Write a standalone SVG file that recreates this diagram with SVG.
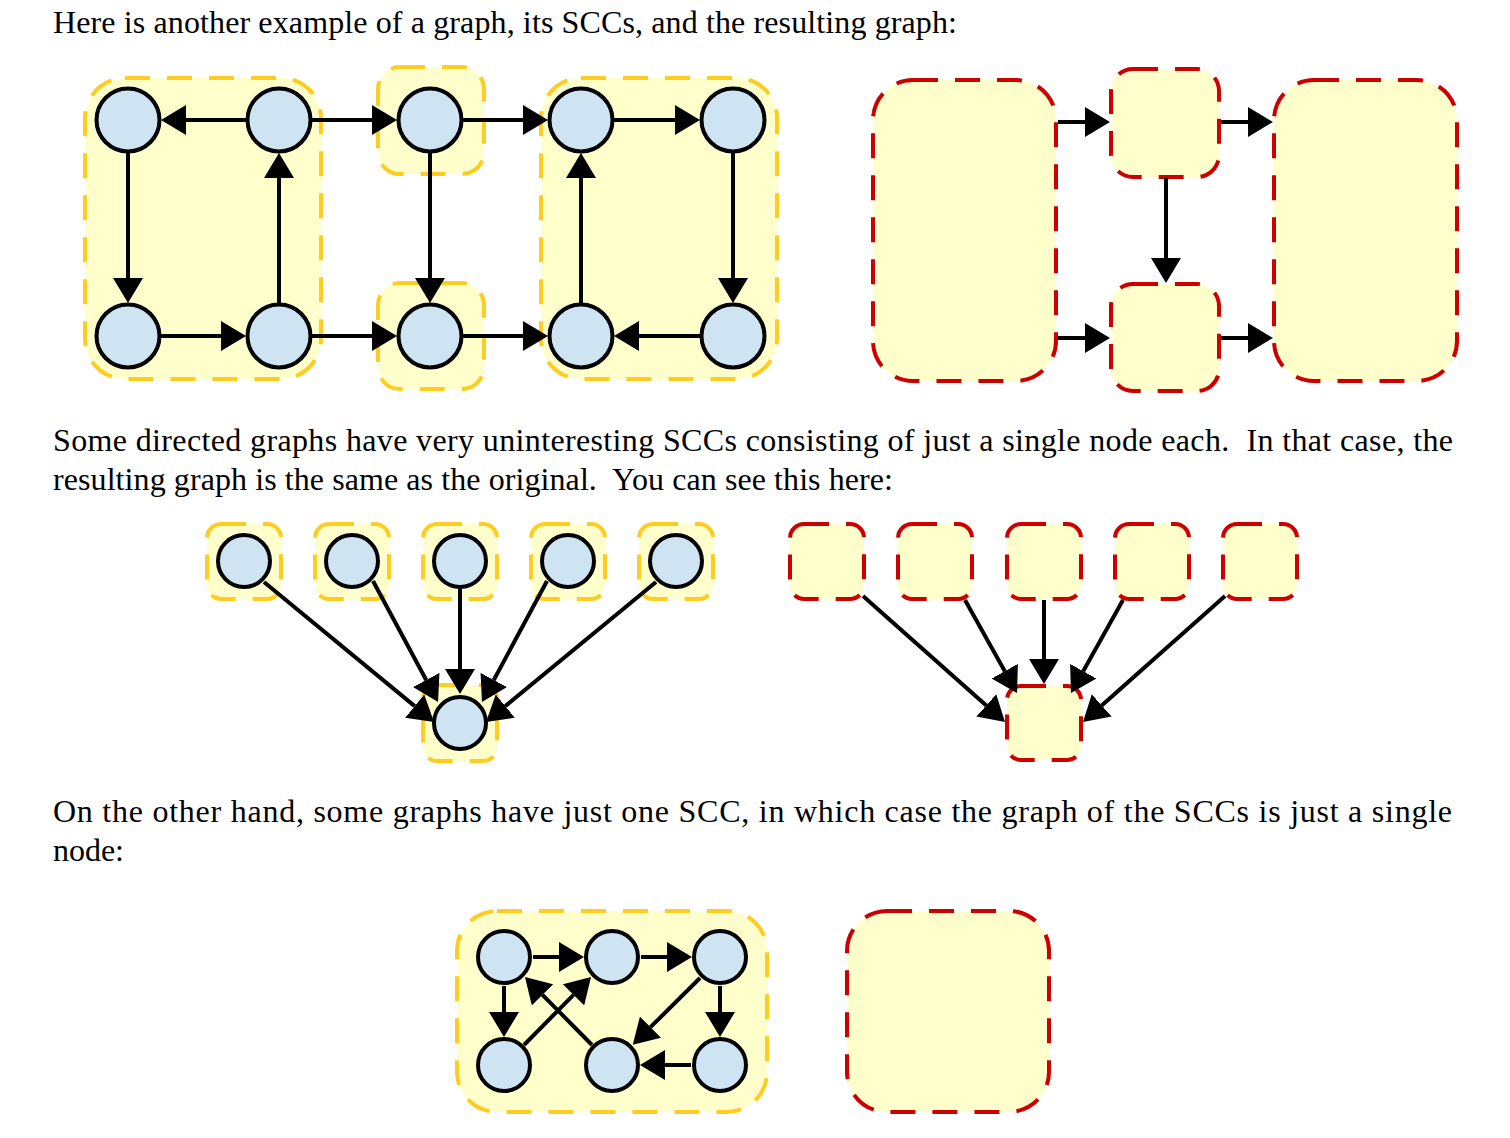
<svg xmlns="http://www.w3.org/2000/svg" width="1510" height="1138" viewBox="0 0 1510 1138">
<style>
  .txt { font-family: 'Liberation Serif', Tinos, 'Times New Roman', Times, serif; font-size: 32px; fill: #000; white-space: pre; }
  .scc { fill: #FFFFCC; stroke: #FFCC22; stroke-width: 4; stroke-dasharray: 25 17; }
  .red { fill: #FFFFCC; stroke: #CC0000; stroke-width: 4; stroke-dasharray: 25 17; }
  .node { fill: #CFE4F3; stroke: #000; stroke-width: 4; }
  .edge { stroke: #000; stroke-width: 4; fill: none; marker-end: url(#ah); }
</style>
<defs>
  <marker id="ah" markerUnits="userSpaceOnUse" markerWidth="25" markerHeight="30" viewBox="0 0 25 30" refX="0" refY="15" orient="auto">
    <path d="M0,0 L25,15 L0,30 z" fill="#000"/>
  </marker>
</defs>
<rect width="1510" height="1138" fill="#fff"/>

<g id="texts" font-family="Liberation Serif, Tinos, Times New Roman, serif">
  <text class="txt" x="53" y="33" textLength="904" lengthAdjust="spacing">Here is another example of a graph, its SCCs, and the resulting graph:</text>
  <text class="txt" x="53" y="451" textLength="1400" lengthAdjust="spacing">Some directed graphs have very uninteresting SCCs consisting of just a single node each.  In that case, the</text>
  <text class="txt" x="53" y="490" textLength="840" lengthAdjust="spacing">resulting graph is the same as the original.  You can see this here:</text>
  <text class="txt" x="53" y="822" textLength="1399" lengthAdjust="spacing">On the other hand, some graphs have just one SCC, in which case the graph of the SCCs is just a single</text>
  <text class="txt" x="53" y="861" textLength="71" lengthAdjust="spacing">node:</text>
</g>

<!-- Section 1: SCC groups -->
<g id="s1-sccA"><rect class="scc" x="85" y="78" width="236" height="301" rx="40"/></g>
<g id="s1-sccB"><rect class="scc" x="378" y="67" width="106" height="107" rx="22"/></g>
<g id="s1-sccC"><rect class="scc" x="378" y="283" width="106" height="106" rx="22"/></g>
<g id="s1-sccD"><rect class="scc" x="541" y="78" width="236" height="301" rx="40"/></g>

<g id="s1-connectors">
  <line class="edge" x1="246" y1="120" x2="186" y2="120"/>
  <line class="edge" x1="312" y1="120" x2="372" y2="120"/>
  <line class="edge" x1="463" y1="120" x2="523" y2="120"/>
  <line class="edge" x1="614" y1="120" x2="675" y2="120"/>
  <line class="edge" x1="128" y1="153" x2="128" y2="278"/>
  <line class="edge" x1="279" y1="303" x2="279" y2="178"/>
  <line class="edge" x1="161" y1="336" x2="221" y2="336"/>
  <line class="edge" x1="312" y1="336" x2="372" y2="336"/>
  <line class="edge" x1="430" y1="153" x2="430" y2="278"/>
  <line class="edge" x1="463" y1="336" x2="523" y2="336"/>
  <line class="edge" x1="700" y1="336" x2="639" y2="336"/>
  <line class="edge" x1="581" y1="303" x2="581" y2="178"/>
  <line class="edge" x1="733" y1="153" x2="733" y2="278"/>
</g>

<g id="s1-n1"><circle class="node" cx="128" cy="120" r="31.5"/></g>
<g id="s1-n2"><circle class="node" cx="279" cy="120" r="31.5"/></g>
<g id="s1-n3"><circle class="node" cx="430" cy="120" r="31.5"/></g>
<g id="s1-n4"><circle class="node" cx="581" cy="120" r="31.5"/></g>
<g id="s1-n5"><circle class="node" cx="733" cy="120" r="31.5"/></g>
<g id="s1-n6"><circle class="node" cx="128" cy="336" r="31.5"/></g>
<g id="s1-n7"><circle class="node" cx="279" cy="336" r="31.5"/></g>
<g id="s1-n8"><circle class="node" cx="430" cy="336" r="31.5"/></g>
<g id="s1-n9"><circle class="node" cx="581" cy="336" r="31.5"/></g>
<g id="s1-n10"><circle class="node" cx="733" cy="336" r="31.5"/></g>

<!-- Section 1: condensed graph -->
<g id="s1-c1"><rect class="red" x="873" y="80" width="183" height="301" rx="40"/></g>
<g id="s1-c2"><rect class="red" x="1111" y="69" width="108" height="108" rx="22"/></g>
<g id="s1-c3"><rect class="red" x="1111" y="284" width="108" height="107" rx="22"/></g>
<g id="s1-c4"><rect class="red" x="1274" y="80" width="183" height="301" rx="40"/></g>
<g id="s1-c-connectors">
  <line class="edge" x1="1058" y1="122" x2="1085" y2="122"/>
  <line class="edge" x1="1221" y1="122" x2="1248" y2="122"/>
  <line class="edge" x1="1058" y1="338" x2="1085" y2="338"/>
  <line class="edge" x1="1221" y1="338" x2="1248" y2="338"/>
  <line class="edge" x1="1166" y1="178" x2="1166" y2="258"/>
</g>

<!-- Section 2: left -->
<g id="s2-scc1"><rect class="scc" x="207" y="524" width="74" height="75" rx="14"/></g>
<g id="s2-scc2"><rect class="scc" x="315" y="524" width="74" height="75" rx="14"/></g>
<g id="s2-scc3"><rect class="scc" x="423" y="524" width="74" height="75" rx="14"/></g>
<g id="s2-scc4"><rect class="scc" x="531" y="524" width="74" height="75" rx="14"/></g>
<g id="s2-scc5"><rect class="scc" x="639" y="524" width="74" height="75" rx="14"/></g>
<g id="s2-scc6"><rect class="scc" x="423" y="685" width="74" height="76" rx="14"/></g>
<g id="s2-connectors">
  <line class="edge" x1="264" y1="582" x2="414.7" y2="706.1"/>
  <line class="edge" x1="373" y1="581" x2="426.2" y2="680"/>
  <line class="edge" x1="460" y1="589" x2="460" y2="669"/>
  <line class="edge" x1="547" y1="581" x2="493.8" y2="680"/>
  <line class="edge" x1="656" y1="582" x2="505.3" y2="706.1"/>
</g>
<g id="s2-n1"><circle class="node" cx="244" cy="561" r="26"/></g>
<g id="s2-n2"><circle class="node" cx="352" cy="561" r="26"/></g>
<g id="s2-n3"><circle class="node" cx="460" cy="561" r="26"/></g>
<g id="s2-n4"><circle class="node" cx="568" cy="561" r="26"/></g>
<g id="s2-n5"><circle class="node" cx="676" cy="561" r="26"/></g>
<g id="s2-n6"><circle class="node" cx="460" cy="723" r="26"/></g>

<!-- Section 2: right -->
<g id="s2-c1"><rect class="red" x="790" y="524" width="74" height="75" rx="14"/></g>
<g id="s2-c2"><rect class="red" x="898" y="524" width="74" height="75" rx="14"/></g>
<g id="s2-c3"><rect class="red" x="1007" y="524" width="74" height="75" rx="14"/></g>
<g id="s2-c4"><rect class="red" x="1115" y="524" width="74" height="75" rx="14"/></g>
<g id="s2-c5"><rect class="red" x="1223" y="524" width="74" height="75" rx="14"/></g>
<g id="s2-c6"><rect class="red" x="1007" y="686" width="74" height="74" rx="14"/></g>
<g id="s2-c-connectors">
  <line class="edge" x1="863" y1="596" x2="986.3" y2="705.4"/>
  <line class="edge" x1="965" y1="600" x2="1004.8" y2="671.2"/>
  <line class="edge" x1="1044" y1="600" x2="1044" y2="659"/>
  <line class="edge" x1="1123" y1="600" x2="1083.2" y2="671.2"/>
  <line class="edge" x1="1225" y1="596" x2="1101.7" y2="705.4"/>
</g>

<!-- Section 3 -->
<g id="s3-scc"><rect class="scc" x="457" y="911" width="310" height="201" rx="40"/></g>
<g id="s3-connectors">
  <line class="edge" x1="533" y1="957" x2="559" y2="957"/>
  <line class="edge" x1="641" y1="957" x2="667" y2="957"/>
  <line class="edge" x1="504" y1="986" x2="504" y2="1012"/>
  <line class="edge" x1="720" y1="986" x2="720" y2="1012"/>
  <line class="edge" x1="691" y1="1065" x2="665" y2="1065"/>
  <line class="edge" x1="524" y1="1045" x2="573.5" y2="994.8"/>
  <line class="edge" x1="592" y1="1045" x2="542.5" y2="994.8"/>
  <line class="edge" x1="700" y1="978" x2="650.5" y2="1027.2"/>
</g>
<g id="s3-n1"><circle class="node" cx="504" cy="957" r="26"/></g>
<g id="s3-n2"><circle class="node" cx="612" cy="957" r="26"/></g>
<g id="s3-n3"><circle class="node" cx="720" cy="957" r="26"/></g>
<g id="s3-n4"><circle class="node" cx="504" cy="1065" r="26"/></g>
<g id="s3-n5"><circle class="node" cx="612" cy="1065" r="26"/></g>
<g id="s3-n6"><circle class="node" cx="720" cy="1065" r="26"/></g>
<g id="s3-c1"><rect class="red" x="847" y="911" width="202" height="201" rx="40"/></g>
</svg>
